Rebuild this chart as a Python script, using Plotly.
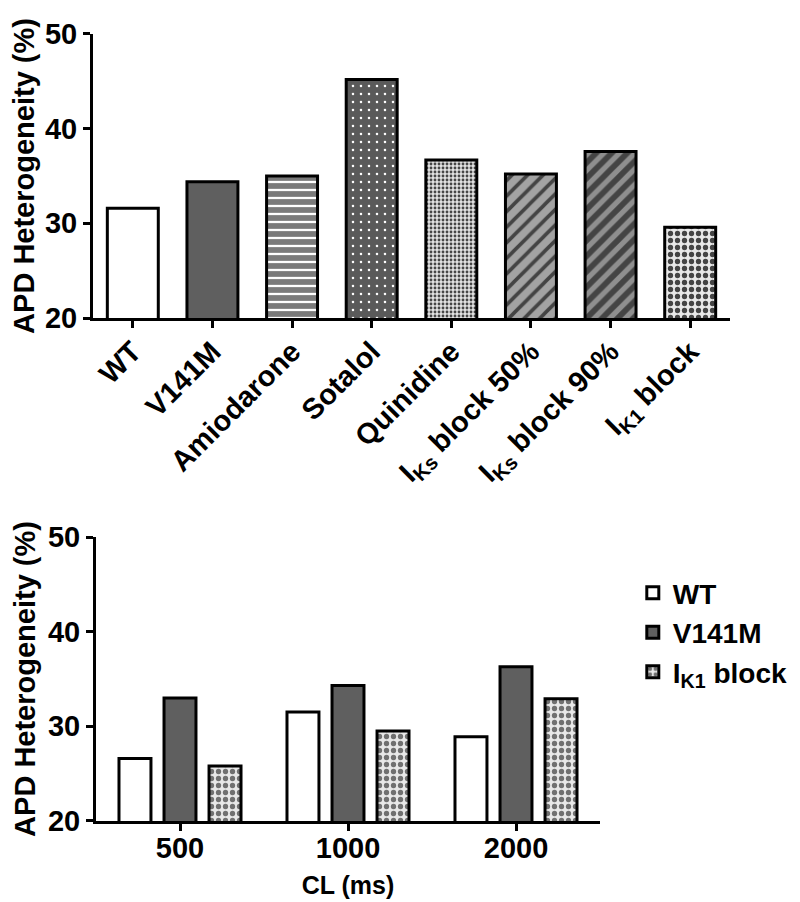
import plotly.graph_objects as go

# ---- data ----
top_categories = ["WT", "V141M", "Amiodarone", "Sotalol", "Quinidine",
                  "I<sub>Ks</sub> block 50%", "I<sub>Ks</sub> block 90%", "I<sub>K1</sub> block"]
top_values = [31.6, 34.4, 35.0, 45.2, 36.7, 35.2, 37.6, 29.6]

cl_labels = ["500", "1000", "2000"]
wt_values = [26.6, 31.5, 28.9]
v141m_values = [33.0, 34.3, 36.3]
ik1_values = [25.8, 29.5, 32.9]

y_ticks = [20, 30, 40, 50]

# ---- styles ----
FONT = "Liberation Sans, Arial, sans-serif"
top_colors = ["#ffffff", "#5f5f5f", "#7a7a7a", "#5a5a5a", "#e2e2e2", "#a3a3a3", "#8f8f8f", "#e8e8e8"]
top_shapes = ["", "", "-", ".", ".", "/", "/", "."]
top_fg = ["#000000", "#000000", "#c8c8c8", "#a8a8a8", "#b0b0b0", "#111111", "#111111", "#707070"]
top_size = [8, 8, 8, 8, 4, 11, 11, 7]
top_sol = [0.3, 0.3, 0.28, 0.08, 0.4, 0.33, 0.52, 0.45]

fig = go.Figure()

fig.add_trace(go.Bar(
    x=top_categories, y=top_values, xaxis="x", yaxis="y", width=0.64,
    marker=dict(color=top_colors, line=dict(color="black", width=3),
                pattern=dict(shape=top_shapes, fgcolor=top_fg, fgopacity=1,
                             size=top_size, solidity=top_sol, fillmode="overlay")),
    showlegend=False,
))

fig.add_trace(go.Bar(
    x=cl_labels, y=wt_values, xaxis="x2", yaxis="y2", name="WT",
    marker=dict(color="#ffffff", line=dict(color="black", width=3)),
))
fig.add_trace(go.Bar(
    x=cl_labels, y=v141m_values, xaxis="x2", yaxis="y2", name="V141M",
    marker=dict(color="#5f5f5f", line=dict(color="black", width=3)),
))
fig.add_trace(go.Bar(
    x=cl_labels, y=ik1_values, xaxis="x2", yaxis="y2", name="I<sub>K1</sub> block",
    marker=dict(color="#e8e8e8", line=dict(color="black", width=3),
                pattern=dict(shape=".", fgcolor="#707070", fgopacity=1,
                             size=7, solidity=0.45, fillmode="overlay")),
))

tickfont = dict(family=FONT, size=29, color="black", weight="bold")
common_y = dict(range=[20, 50], tickvals=y_ticks, showline=True, linecolor="black", linewidth=3,
                ticks="outside", ticklen=7, tickwidth=3, tickcolor="black", showgrid=False,
                zeroline=False, tickfont=tickfont, automargin=False)
common_x = dict(showline=True, linecolor="black", linewidth=3, ticks="outside", ticklen=7,
                tickwidth=3, tickcolor="black", showgrid=False, zeroline=False,
                tickfont=tickfont, automargin=False, type="category")

ytitle = dict(text="APD Heterogeneity (%)", font=dict(family=FONT, size=29, color="black", weight="bold"),
              standoff=4)

fig.update_layout(
    template="none",
    width=800, height=902,
    margin=dict(l=0, r=0, t=0, b=0),
    paper_bgcolor="white", plot_bgcolor="white",
    barmode="group", bargap=0.196, bargroupgap=0.29,
    font=dict(family=FONT, color="black"),
    xaxis=dict(domain=[0.10625, 0.9025], anchor="y", range=[-0.5, 7.5], tickangle=-45,
               ticklabelstandoff=-5, **common_x),
    yaxis=dict(domain=[0.6563, 0.9712], anchor="x", title=ytitle, **common_y),
    xaxis2=dict(domain=[0.11, 0.74], anchor="y2", range=[-0.5, 2.5], ticklabelstandoff=-8,
                title=dict(text="CL (ms)", font=dict(family=FONT, size=25, color="black", weight="bold"),
                           standoff=14), **common_x),
    yaxis2=dict(domain=[0.0987, 0.4135], anchor="x2", title=ytitle, **common_y),
    legend=dict(x=0.781, y=0.379, xanchor="left", yanchor="top",
                font=dict(family=FONT, size=28, color="black", weight="bold"),
                bgcolor="rgba(0,0,0,0)", itemwidth=30, tracegroupgap=0),
)

fig.write_html("out.html")
